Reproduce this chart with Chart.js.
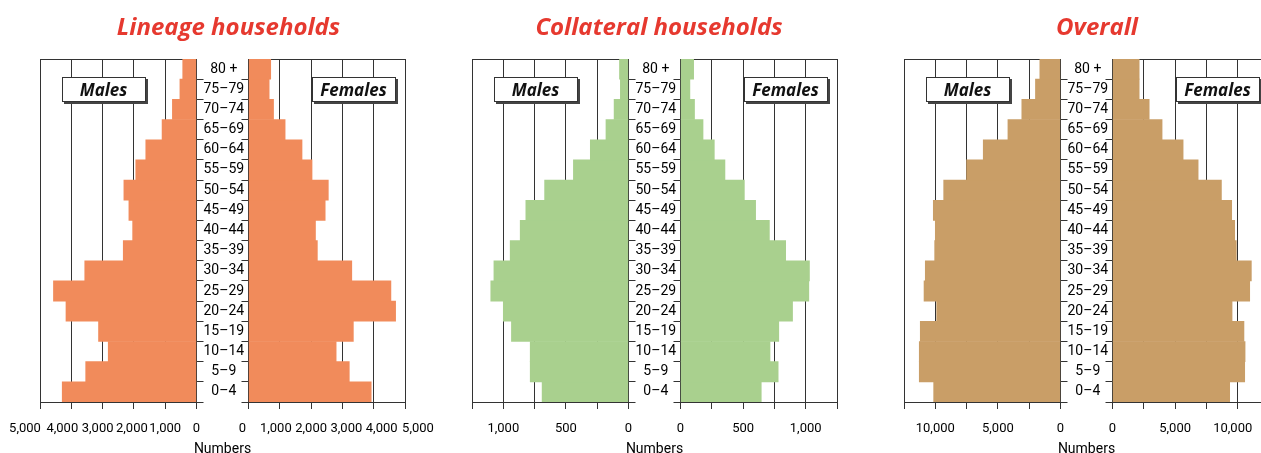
<!DOCTYPE html>
<html>
<head>
<meta charset="utf-8">
<script src="https://cdn.jsdelivr.net/npm/chart.js@4.4.1/dist/chart.umd.min.js"></script>
<style>
  html, body { margin: 0; padding: 0; background: #ffffff; overflow: hidden; }
  body { width: 1261px; height: 453px; position: relative; }
  canvas { position: absolute; }
  .title { position: absolute; top: 11px; transform: translateX(-50%); white-space: nowrap;
           font-family: "Open Sans", Lato, sans-serif; font-weight: 700; font-style: italic;
           font-size: 24px; line-height: 30px; color: #e6392f; }
  .box { position: absolute; top: 77px; width: 84px; height: 25px; box-sizing: border-box;
         background: #fff; border: 1px solid #333; box-shadow: 2px 2px 0 #444;
         font-family: "Open Sans", Lato, sans-serif; font-weight: 700; font-style: italic;
         font-size: 17px; line-height: 23px; text-align: center; color: #111; z-index: 5; }
  .xname { position: absolute; top: 441px; transform: translateX(-50%); white-space: nowrap;
           font-family: Roboto, "Liberation Sans", sans-serif;
           font-size: 14px; line-height: 15px; color: #000; }
</style>
</head>
<body>
<script>
// ---- data (youngest age group first) ----
const ageGroups = ['0–4','5–9','10–14','15–19','20–24','25–29','30–34','35–39','40–44','45–49','50–54','55–59','60–64','65–69','70–74','75–79','80 +'];

const lineageMales      = [4290, 3540, 2820, 3130, 4170, 4570, 3570, 2340, 2040, 2160, 2320, 1940, 1620, 1100, 770, 530, 440];
const lineageFemales    = [3920, 3220, 2800, 3350, 4700, 4550, 3300, 2200, 2140, 2450, 2550, 2030, 1710, 1170, 800, 660, 710];

const collateralMales   = [690, 785, 785, 935, 1000, 1100, 1075, 945, 865, 820, 670, 440, 305, 180, 115, 65, 72];
const collateralFemales = [645, 780, 715, 785, 895, 1025, 1030, 840, 710, 600, 510, 355, 270, 180, 112, 75, 105];

const overallMales      = [10130, 11280, 11280, 11200, 9890, 10900, 10800, 10050, 10000, 10160, 9330, 7500, 6170, 4200, 3090, 2000, 1650];
const overallFemales    = [9360, 10560, 10590, 10500, 9550, 10960, 11090, 9890, 9760, 9520, 8700, 6840, 5640, 3960, 2930, 2130, 2130];

// tick values and the ones that carry a label
const lineageTicks      = [0, 1000, 2000, 3000, 4000, 5000];
const lineageLabeled    = [0, 1000, 2000, 3000, 4000, 5000];
const collateralTicks   = [0, 250, 500, 750, 1000, 1250];
const collateralLabeled = [0, 500, 1000];
const overallTicks      = [0, 2500, 5000, 7500, 10000, 12500];
const overallLabeled    = [0, 5000, 10000];

const panelTitles = ['Lineage households', 'Collateral households', 'Overall'];
const sideNames   = ['Males', 'Females'];
const axisName    = 'Numbers';

// ---- styling / layout ----
const GRID = '#333333';
const TXT  = '#000000';
const XFONT = { family: 'Roboto, "Liberation Sans", sans-serif', size: 13 };
const YFONT = { family: 'Roboto, "Liberation Sans", sans-serif', size: 14 };
const fmt = v => v.toLocaleString('en-US');

// shifts label x positions (per tick value) after layout
const labelShiftPlugin = {
  id: 'labelShift',
  beforeDraw(chart) {
    const sh = chart.options.plugins.labelShift;
    if (!sh || !sh.x) return;
    const scale = chart.scales.x;
    const items = scale.getLabelItems();
    if (items._shifted) return;
    items.forEach((it, i) => {
      const t = scale.ticks[i];
      if (t && sh.x[t.value] !== undefined) it.options.translation[0] += sh.x[t.value];
    });
    items._shifted = true;
  }
};

function addCanvas(left, top, w, h) {
  const c = document.createElement('canvas');
  c.width = w; c.height = h;
  c.style.left = left + 'px'; c.style.top = top + 'px';
  c.style.width = w + 'px'; c.style.height = h + 'px';
  document.body.appendChild(c);
  return c;
}

function sideChart(canvas, values, color, isMale, max, ticks, labeled, shifts, pad) {
  return new Chart(canvas, {
    type: 'bar',
    data: {
      labels: ageGroups,
      datasets: [{ data: values, backgroundColor: color, borderWidth: 0,
                   barPercentage: 1, categoryPercentage: 1 }]
    },
    options: {
      indexAxis: 'y',
      responsive: false,
      animation: false,
      events: [],
      layout: { padding: pad },
      plugins: { legend: { display: false }, tooltip: { enabled: false }, labelShift: { x: shifts } },
      scales: {
        x: {
          type: 'linear', position: 'bottom', reverse: isMale, min: 0, max: max,
          afterBuildTicks: s => { s.ticks = ticks.map(v => ({ value: v })); },
          afterFit: s => { s.height = 51; },
          grid: { color: GRID, lineWidth: 1, drawTicks: true, tickLength: 7, tickColor: GRID },
          border: { display: true, color: GRID, width: 1 },
          ticks: { font: XFONT, color: TXT, padding: 12, maxRotation: 0, autoSkip: false,
                   callback: v => labeled.includes(v) ? fmt(v) : '' }
        },
        xTop: {
          type: 'linear', position: 'top', display: true,
          afterFit: s => { s.height = 0; },
          grid: { drawOnChartArea: false, drawTicks: false },
          ticks: { display: false },
          border: { display: true, color: GRID, width: 1 }
        },
        y: {
          type: 'category', position: isMale ? 'right' : 'left', reverse: true, offset: true,
          afterFit: s => { s.width = 52.5; },
          grid: { offset: true, drawOnChartArea: false, drawTicks: true, tickLength: 7, lineWidth: 1,
                  color: ctx => ctx.type === 'tick' ? GRID : 'rgba(0,0,0,0)' },
          border: { display: true, color: GRID, width: 1 },
          ticks: { display: isMale, font: YFONT, color: TXT, crossAlign: 'center', padding: 0, autoSkip: false }
        }
      }
    },
    plugins: [labelShiftPlugin]
  });
}

function addDiv(cls, text, left) {
  const d = document.createElement('div');
  d.className = cls; d.textContent = text;
  d.style.left = left + 'px';
  document.body.appendChild(d);
}

const panels = [
  { P: 0,   males: lineageMales,    females: lineageFemales,    color: '#f18b5b', max: 5000,
    ticks: lineageTicks, labeled: lineageLabeled, titleX: 228.5,
    mShift: { 5000: -15, 4000: -9, 3000: -5, 2000: -2, 1000: 0 },
    fShift: { 0: -6, 1000: -4, 2000: 0, 3000: 4, 4000: 8, 5000: 13 } },
  { P: 432, males: collateralMales, females: collateralFemales, color: '#a9d08e', max: 1250,
    ticks: collateralTicks, labeled: collateralLabeled, titleX: 659, mShift: {}, fShift: {} },
  { P: 864, males: overallMales,    females: overallFemales,    color: '#c99e67', max: 12500,
    ticks: overallTicks, labeled: overallLabeled, titleX: 1097, mShift: {}, fShift: { 10000: -5 } }
];

panels.forEach((p, i) => {
  // male side: chart area x = P+40 .. P+196.5, y = 59 .. 402
  const cm = addCanvas(p.P, 40, 249, 413);
  sideChart(cm, p.males, p.color, true, p.max, p.ticks, p.labeled, p.mShift,
            { left: 40, top: 19, right: 0, bottom: 0 });
  // female side: chart area x = P+248.5 .. P+405
  const cf = addCanvas(p.P + 196, 40, 240, 413);
  sideChart(cf, p.females, p.color, false, p.max, p.ticks, p.labeled, p.fShift,
            { left: 0, top: 19, right: 31, bottom: 0 });

  addDiv('title', panelTitles[i], p.titleX);
  addDiv('box', sideNames[0], p.P + 61.5);
  addDiv('box', sideNames[1], p.P + 311.5);
  addDiv('xname', axisName, p.P + 222.5);
});
</script>
</body>
</html>
